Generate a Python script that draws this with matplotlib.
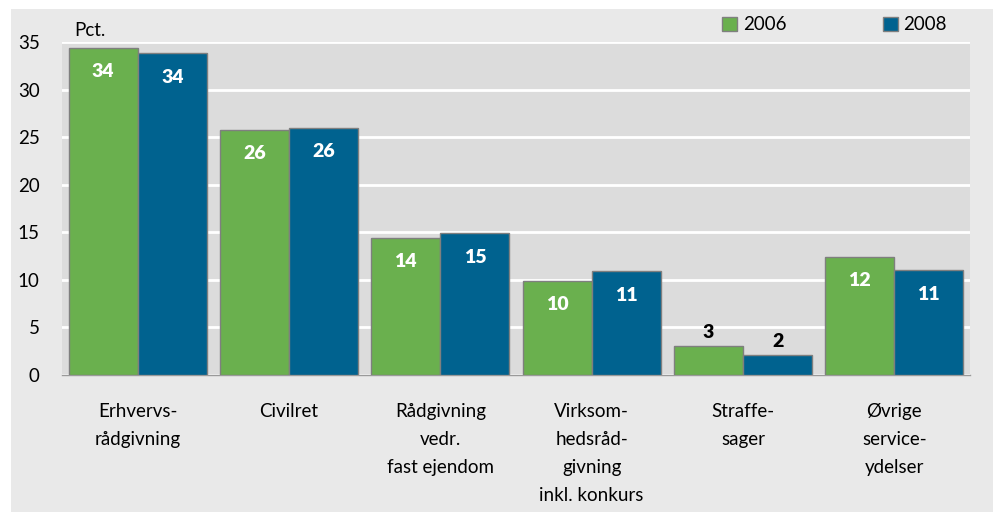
import numpy as np
import matplotlib.pyplot as plt
from matplotlib.patches import Rectangle

# data
categories = ["Erhvervs-\nrådgivning", "Civilret", "Rådgivning\nvedr.\nfast ejendom",
              "Virksom-\nhedsråd-\ngivning\ninkl. konkurs", "Straffe-\nsager",
              "Øvrige\nservice-\nydelser"]
values_2006 = [34.4, 25.8, 14.4, 9.9, 3.1, 12.4]
values_2008 = [33.8, 26.0, 14.9, 10.9, 2.1, 11.0]
yticks = [0, 5, 10, 15, 20, 25, 30, 35]

green = "#6ab04e"
blue = "#00628f"
panel = "#e9e9e9"
plotbg = "#dcdcdc"

plt.rcParams['font.family'] = ['Lato', 'DejaVu Sans']

fig = plt.figure(figsize=(9.98, 5.12), dpi=100)
fig.patch.set_facecolor("white")
# light grey panel behind everything
fig.patches.append(Rectangle((11/998, 0), 982/998, 1 - 9/512, transform=fig.transFigure,
                             facecolor=panel, edgecolor="none", zorder=-10))

ax = fig.add_axes([62/998, 1 - 375/512, 908/998, 333/512])
ax.set_facecolor(plotbg)

x = np.arange(len(categories))
w = 0.457
b1 = ax.bar(x - w/2, values_2006, w, color=green, edgecolor="#7f7f7f", linewidth=1, label="2006", zorder=3)
b2 = ax.bar(x + w/2, values_2008, w, color=blue, edgecolor="#7f7f7f", linewidth=1, label="2008", zorder=3)

for bars, vals in [(b1, values_2006), (b2, values_2008)]:
    for r, v in zip(bars, vals):
        cx = r.get_x() + r.get_width()/2
        if v < 5:
            ax.text(cx, v + 0.5, f"{round(v)}", ha="center", va="bottom",
                    fontsize=14, fontweight="heavy", color="black", zorder=4)
        else:
            ax.text(cx, v - 2.5, f"{round(v)}", ha="center", va="center",
                    fontsize=14, fontweight="heavy", color="white", zorder=4)

ax.set_xlim(-0.5, len(categories) - 0.5)
ax.set_ylim(0, 35)
ax.set_yticks(yticks)
ax.yaxis.grid(True, color="white", linewidth=2, zorder=1)
ax.set_axisbelow(True)
for s in ["top", "left", "right"]:
    ax.spines[s].set_visible(False)
ax.spines["bottom"].set_color("#9a9a9a")
ax.spines["bottom"].set_linewidth(1)
ax.tick_params(axis="both", length=0, labelsize=13.5)
ax.tick_params(axis="y", pad=16)
ax.tick_params(axis="x", pad=20)
ax.set_xticks(x)
ax.set_xticklabels(categories, linespacing=1.8, va="top")

fig.text(74/998, 1 - 30/512, "Pct.", fontsize=13.5, va="center", ha="left")

leg = fig.legend(handles=[b1, b2], labels=["2006", "2008"], ncol=2,
                 loc="center left", bbox_to_anchor=(722/998, 1 - 25/512),
                 frameon=False, fontsize=13.5, handlelength=0.8, handleheight=0.8,
                 handletextpad=0.3, columnspacing=5.15, borderaxespad=0, borderpad=0)

fig.savefig("out.png", dpi=100, facecolor=fig.get_facecolor())
